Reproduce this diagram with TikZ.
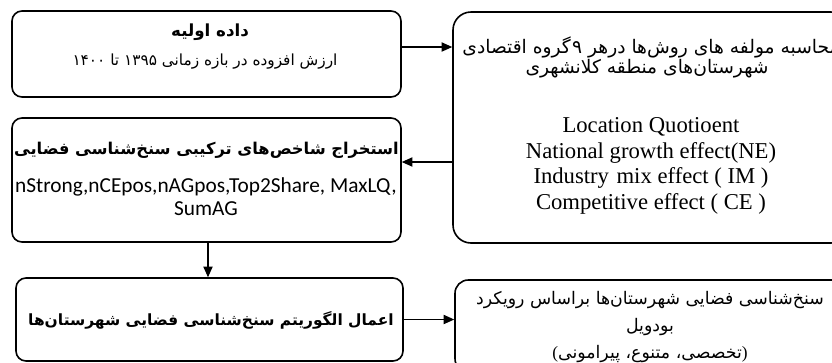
\documentclass[tikz,border=0pt]{standalone}
\usepackage{fontspec}
\setmainfont{Liberation Serif}
\newfontfamily\arabicfont[Script=Arabic]{DejaVu Sans}
\newfontfamily\calib{Carlito}
\TeXXeTstate=1
\usetikzlibrary{arrows.meta}
\begin{document}
\begin{tikzpicture}[x=0.75pt,y=-0.75pt,
  box/.style={draw, line width=1.2pt, inner sep=0pt, rounded corners=#1},
  box/.default=7.5pt,
  txt/.style={inner sep=0pt, align=center},
  fa/.style={txt, font=\arabicfont\fontsize{#1}{#1}\selectfont},
  fab/.style={txt, font=\arabicfont\bfseries\fontsize{#1}{#1}\selectfont},
  tnr/.style={txt, anchor=base, font=\fontsize{17pt}{19pt}\selectfont},
  cal/.style={txt, anchor=base, font=\calib\fontsize{16pt}{17.5pt}\selectfont},
  arr/.style={line width=0.8pt, -{Triangle[length=8pt,width=7pt]}}]
\useasboundingbox (0,0) rectangle (832,362);
\clip (0,0) rectangle (832,362);
% boxes
\node[box, minimum width=291.75pt, minimum height=64.5pt] (A) at (206.5,54) {};
\node[box=13.5pt, minimum width=297pt, minimum height=173.25pt] (B) at (651,127.5) {};
\node[box, minimum width=291.75pt, minimum height=93pt] (C) at (206.5,180) {};
\node[box, minimum width=290.25pt, minimum height=62.25pt] (D) at (209.5,319.5) {};
\node[box=10pt, minimum width=294pt, minimum height=69pt] (E) at (651,326) {};
% texts
\node[fab=12.5pt] (a1) at (210,32) {\beginR داده اولیه\endR};
\node[fa=11.5pt] (a2) at (205,62) {\beginR ارزش افزوده در بازه زمانی ۱۳۹۵ تا ۱۴۰۰\endR};
\node[fa=14pt] (b1) at (651,47) {\beginR محاسبه مولفه های روش‌ها درهر ۹\kern1pt گروه اقتصادی\endR};
\node[fa=14pt] (b2) at (647,69) {\beginR شهرستان‌های منطقه کلانشهری\endR};
\node[tnr] (b3) at (651,132) {Location Quotioent};
\node[tnr] (b4) at (651,158) {National growth effect(NE)};
\node[tnr] (b5) at (651,183.5) {Industry\,\,mix effect ( IM )};
\node[tnr] (b6) at (651,209) {Competitive effect ( CE )};
\node[fab=12.2pt] (c1) at (206.5,150) {\beginR استخراج شاخص‌های ترکیبی سنخ‌شناسی فضایی\endR};
\node[cal] (c2) at (206,192) {nStrong,nCEpos,nAGpos,Top2Share, MaxLQ,};
\node[cal] (c3) at (206,215) {SumAG};
\node[fab=11.6pt] (d1) at (211,320) {\beginR اعمال الگوریتم سنخ‌شناسی فضایی شهرستان‌ها\endR};
\node[fa=13pt] (e1) at (650,300) {\beginR سنخ‌شناسی فضایی شهرستان‌ها براساس رویکرد\endR};
\node[fa=13pt] (e2) at (650,327) {\beginR بودویل\endR};
\node[txt, font=\fontsize{13pt}{13pt}\selectfont] (e3) at (650,354) {({\arabicfont\beginR تخصصی، متنوع، پیرامونی\endR})};
% connectors
\coordinate (yab) at (0,47);
\coordinate (ybc) at (0,162);
\coordinate (xcd) at (208,0);
\draw[arr] (A.east |- yab) -- (B.west |- yab);
\draw[arr] (B.west |- ybc) -- (C.east |- ybc);
\draw[arr] (C.south -| xcd) -- (D.north -| xcd);
\draw[arr] (D.east) -- (D.east -| E.west);
\end{tikzpicture}
\end{document}
